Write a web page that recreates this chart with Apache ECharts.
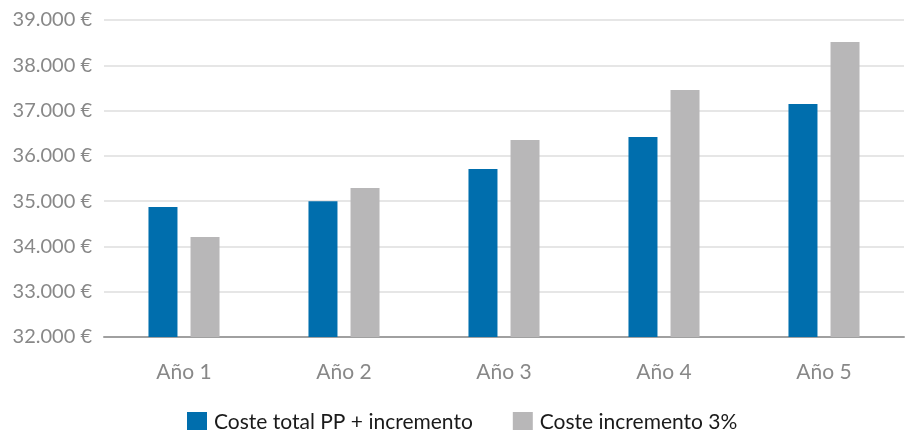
<!DOCTYPE html>
<html>
<head>
<meta charset="utf-8">
<script src="https://cdn.jsdelivr.net/npm/echarts@6/dist/echarts.min.js"></script>
<style>
html,body{margin:0;padding:0;background:#fff;}
#c{width:905px;height:430px;}
</style>
</head>
<body>
<div id="c"></div>
<script>
const categories = ['Año 1', 'Año 2', 'Año 3', 'Año 4', 'Año 5'];
const seriesNames = ['Coste total PP + incremento', 'Coste incremento 3%'];
const costeTotal = [34870, 35000, 35710, 36415, 37145];
const costeIncremento = [34210, 35290, 36350, 37455, 38515];
const yMin = 32000, yMax = 39000, yStep = 1000;

function fmtEuro(v) {
  return String(v).replace(/\B(?=(\d{3})+(?!\d))/g, '.') + ' €';
}

const chart = echarts.init(document.getElementById('c'), null, {renderer: 'canvas'});
chart.setOption({
  animation: false,
  textStyle: {fontFamily: 'Lato'},
  grid: {left: 104, right: 1, top: 20, bottom: 93, containLabel: false},
  legend: {
    top: 407,
    left: 182,
    itemWidth: 20,
    itemHeight: 21,
    itemGap: 40,
    icon: 'rect',
    textStyle: {fontFamily: 'Lato', fontSize: 21, color: '#1a1a1a', padding: [0, 0, 0, 2]},
    data: seriesNames
  },
  xAxis: {
    type: 'category',
    data: categories,
    axisTick: {show: false},
    axisLine: {lineStyle: {color: '#a0a0a0', width: 2}},
    axisLabel: {fontFamily: 'Lato', fontSize: 21, color: '#888', margin: 25}
  },
  yAxis: {
    type: 'value',
    min: yMin, max: yMax, interval: yStep,
    axisLine: {show: false},
    axisTick: {show: false},
    splitLine: {lineStyle: {color: '#e6e6e6', width: 2}},
    axisLabel: {fontFamily: 'Lato', fontSize: 20, color: '#888', margin: 12, formatter: fmtEuro}
  },
  series: [
    {name: seriesNames[0], type: 'bar', data: costeTotal, barWidth: 29, barGap: '45%', itemStyle: {color: '#006EAD'}},
    {name: seriesNames[1], type: 'bar', data: costeIncremento, barWidth: 29, barGap: '45%', itemStyle: {color: '#B8B7B8'}}
  ]
});
</script>
</body>
</html>
